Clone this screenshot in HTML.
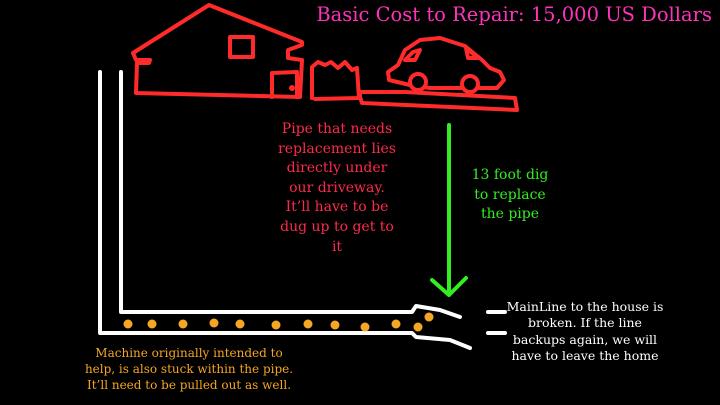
<!DOCTYPE html>
<html><head><style>
body{margin:0;background:#000;width:720px;height:405px;overflow:hidden;position:relative;font-family:"DejaVu Serif","Liberation Serif",serif}
.t{position:absolute;text-align:center;line-height:1.35}
</style></head><body>
<svg width="720" height="405" style="position:absolute;left:0;top:0" fill="none" stroke-linecap="round" stroke-linejoin="round">
<g stroke="#ff2a2a" stroke-width="4">
<path d="M209,5 L133,53 L136,60 L150,60 L149,63 L137,63 L136,93 L300,97 L302,60 L288,58 L288,50 L302,45 L302,42 Z"/>
<rect x="230" y="37" width="23" height="20"/>
<path d="M272,97 L272,73 L297,72 L297,97"/>
<path d="M312,98 L312,67 L318,62 L325,65 L331,62 L338,68 L345,62 L352,70 L357,68 L359,98 L315,99"/>
<path d="M360,97 L360,92 L405,92 L515,98 L517,110 L362,103 Z"/>
<path d="M389,80 L388,72 L398,65 L405,50 L420,40 L440,38 L465,46 L482,60 L490,68 L500,72 L504,80 L497,88 L430,88 L410,85 Z"/>
<path d="M405,60 L413,52 L420,50 L415,60 Z"/>
<path d="M466,48 L478,58 L468,58 Z"/>
<circle cx="418" cy="82" r="8" fill="#000"/>
<circle cx="470" cy="84" r="8" fill="#000"/>
</g>
<circle cx="292" cy="88" r="3" fill="#ff2a2a"/>
<g stroke="#fff" stroke-width="4">
<path d="M100,72 L100,333 L412,333 L416,337 L450,340 L470,348"/>
<path d="M121,72 L121,312 L412,312 L416,306 L440,310 L460,317"/>
<path d="M488,312 L505,312 M488,333 L505,333"/>
</g>
<g stroke="#33ee22" stroke-width="4">
<path d="M449,125 L449,295 M432,280 L449,295 L466,278"/>
</g>
<g fill="#f5a623">
<circle cx="128" cy="324" r="4.5"/><circle cx="152" cy="324" r="4.5"/><circle cx="183" cy="324" r="4.5"/><circle cx="214" cy="323" r="4.5"/><circle cx="240" cy="324" r="4.5"/><circle cx="276" cy="325" r="4.5"/><circle cx="308" cy="324" r="4.5"/><circle cx="335" cy="325" r="4.5"/><circle cx="365" cy="327" r="4.5"/><circle cx="396" cy="324" r="4.5"/><circle cx="418" cy="327" r="4.5"/><circle cx="429" cy="317" r="4.5"/>
</g>
</svg>
<div class="t" style="top:2px;right:8px;font-size:19.5px;color:#ff33bb;white-space:nowrap">Basic Cost to Repair: 15,000 US Dollars</div>
<div class="t" style="left:277px;top:120px;width:120px;font-size:14px;color:#ff2a4a;line-height:1.4">Pipe that needs replacement lies directly under our driveway. It’ll have to be dug up to get to it</div>
<div class="t" style="left:467px;top:166px;width:86px;font-size:14px;color:#33ee22;line-height:1.4">13 foot dig to replace the pipe</div>
<div class="t" style="left:502px;top:299px;width:166px;font-size:12.5px;color:#fff;line-height:1.3">MainLine to the house is broken. If the line <span style="white-space:nowrap">backups again, we will</span> have to leave the home</div>
<div class="t" style="left:78px;top:345px;width:222px;font-size:12px;color:#f5a623;line-height:1.35">Machine originally intended to<br>help, is also stuck within the pipe.<br>It’ll need to be pulled out as well.</div>
</body></html>
